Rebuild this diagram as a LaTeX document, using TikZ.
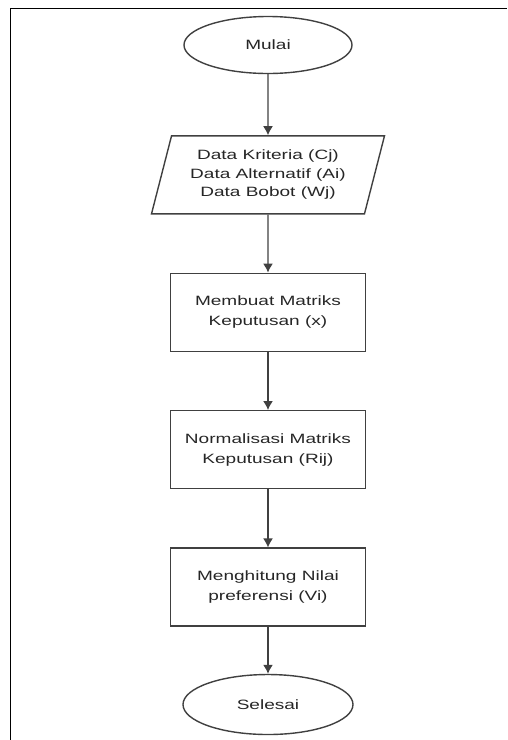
\documentclass[tikz,border=0pt]{standalone}
\usepackage{fontspec}
\setmainfont{Liberation Sans}[FakeStretch=1.41]
\usetikzlibrary{arrows.meta,shapes,positioning}

\begin{document}
\begin{tikzpicture}
	\tikzset{
	  basic/.style    = {draw=black!75, line width=1.4pt, text=black!85,
	                     font=\fontsize{13.5}{20}\selectfont, align=center, inner sep=0pt},
	  terminal/.style = {basic, ellipse, minimum width=168pt, minimum height=57pt},
	  io/.style       = {basic, trapezium, trapezium left angle=68, trapezium right angle=112,
	                     trapezium stretches body, minimum width=233pt, minimum height=78pt,
	                     font=\fontsize{13.5}{18.5}\selectfont},
	  process/.style  = {basic, rectangle, minimum width=195pt, minimum height=78pt},
	  flow/.style     = {draw=black!75, line width=1.4pt, -{Latex[length=9pt,width=10pt]}},
	  node distance = 58pt
	}
	\useasboundingbox (0pt,0pt) rectangle (507pt,-740pt);
	% frame of the page
	\draw[line width=1.6pt] (10.5pt,-740pt) -- (10.5pt,-8.5pt) -- (507pt,-8.5pt);

	\node[terminal] (mulai) at (268pt,-45pt) {Mulai};
	% input and processing steps
	\node[io, below=61pt of mulai] (data)
	  {Data Kriteria (Cj)\\ Data Alternatif (Ai)\\ Data Bobot (Wj)};
	\node[process, below=of data] (matriks) {Membuat Matriks\\ Keputusan (x)};
	\node[process, below=of matriks] (normal) {Normalisasi Matriks\\ Keputusan (Rij)};
	\node[process, below=of normal] (nilai) {Menghitung Nilai\\ preferensi (Vi)};
	\node[terminal, minimum height=60pt, minimum width=170pt, below=47pt of nilai] (selesai) {Selesai};

	\draw[flow] (mulai) -- (data);
	\draw[flow] (data) -- (matriks);
	\draw[flow] (matriks) -- (normal);
	\draw[flow] (normal) -- (nilai);
	\draw[flow] (nilai) -- (selesai);
\end{tikzpicture}
\end{document}
